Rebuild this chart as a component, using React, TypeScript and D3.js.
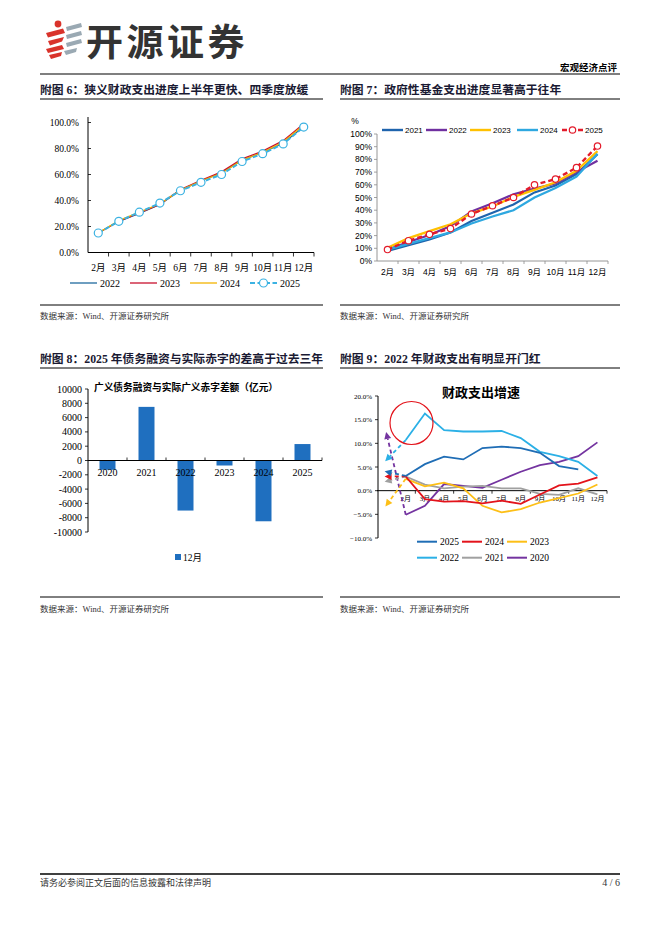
import React from 'react';
import * as d3 from 'd3';

// ---------- DATA ----------
const months11 = ['2月', '3月', '4月', '5月', '6月', '7月', '8月', '9月', '10月', '11月', '12月'];

// 附图6 狭义财政支出进度 (%)
const c6Years = ['2022', '2023', '2024', '2025'];
const c6_2022 = [15, 24, 30, 37, 48, 55, 61.5, 71, 77, 84, 97];
const c6_2023 = [15, 24, 30.5, 37, 48.5, 55.5, 62, 72, 78, 86, 99];
const c6_2024 = [15, 24.5, 31, 37.5, 48, 55, 61, 71, 77, 85, 98];
const c6_2025 = [15, 24, 31, 38, 47.5, 54, 60, 70, 76, 83.5, 96.5];

// 附图7 政府性基金支出进度 (%)
const c7Years = ['2021', '2022', '2023', '2024', '2025'];
const c7_2021 = [8, 12.5, 17, 22.5, 31.5, 38, 44.5, 54, 59.5, 68.5, 84];
const c7_2022 = [9, 15, 20.5, 27.5, 39, 45.5, 52.5, 57, 61, 70, 79];
const c7_2023 = [10.5, 18, 23.5, 29, 37.5, 43, 50.5, 56, 62, 71, 86.5];
const c7_2024 = [9, 13.5, 18, 22.5, 29.5, 35, 40, 50, 57.5, 66.5, 84.5];
const c7_2025 = [9, 16, 21, 25.5, 37, 43.5, 50, 60, 64.5, 73.5, 90.5];

// 附图8 广义债务融资与实际广义赤字差额 (亿元)
const c8Years = ['2020', '2021', '2022', '2023', '2024', '2025'];
const c8Values = [-1300, 7500, -7000, -700, -8500, 2300];

// 附图9 财政支出增速 (%), index 0 = 1月 (arrow), 1.. = 2月..12月
const months12 = ['', '2月', '3月', '4月', '5月', '6月', '7月', '8月', '9月', '10月', '11月', '12月'];
const c9Years = ['2025', '2024', '2023', '2022', '2021', '2020'];
const c9_2025 = [4, 3.1, 5.6, 7.2, 6.6, 9.0, 9.3, 9.0, 8.0, 5.2, 4.5, null];
const c9_2024 = [3, 3, -1.8, -2.3, -2.2, -2.7, -2.1, -2.8, -0.8, 1.1, 1.5, 2.8];
const c9_2023 = [-3, 2.5, 0.9, 1.7, 0.5, -3.2, -4.6, -3.9, -2.5, -1.6, -0.6, 1.3];
const c9_2022 = [6.5, 10.7, 16.3, 12.8, 12.5, 12.5, 12.6, 11.1, 8.2, 7.3, 6.1, 3.1];
const c9_2021 = [2, 3, 1.3, 0.5, 0.85, 1.0, 0.5, 0.5, -0.7, -0.9, 0.5, -0.8];
const c9_2020 = [12, -5.1, -3.2, 1.4, 1.0, 0.6, 2.3, 4.0, 5.4, 6.1, 7.3, 10.2];

// ---------- STYLE ----------
const SERIF = '"Liberation Serif","Times New Roman","Noto Sans CJK SC",serif';
const SANS = '"Liberation Sans",Arial,"Noto Sans CJK SC",sans-serif';
const TITLE_COLOR = '#1a1a33';

function Chart6() {
  const x = d3.scaleBand<string>().domain(months11).range([88, 314]);
  const y = d3.scaleLinear().domain([0, 100]).range([252.5, 122.5]);
  const cx = (i: number) => (x(months11[i]) as number) + x.bandwidth() / 2;
  const line = d3.line<number>().x((_, i) => cx(i)).y((d) => y(d));
  const series = [
    { name: c6Years[0], data: c6_2022, color: '#1f6a9e', w: 1.3 },
    { name: c6Years[1], data: c6_2023, color: '#c8102e', w: 1.3 },
    { name: c6Years[2], data: c6_2024, color: '#f3b300', w: 1.3 },
  ];
  const s25 = { name: c6Years[3], data: c6_2025, color: '#3bb2e2' };
  const ticks = y.ticks(5);
  const legendX = [70, 130, 190, 250];
  return (
    <g>
      {ticks.map((t) => (
        <g key={t}>
          <text x={79} y={y(t) + 3.5} textAnchor="end" fontSize={9.5} fontFamily={SERIF}>
            {d3.format('.1f')(t) + '%'}
          </text>
          <line x1={88} x2={91} y1={y(t)} y2={y(t)} stroke="#000" strokeWidth={0.8} />
        </g>
      ))}
      <line x1={88} x2={88} y1={117} y2={y(0)} stroke="#000" strokeWidth={1} />
      <line x1={88} x2={314} y1={y(0)} y2={y(0)} stroke="#000" strokeWidth={1} />
      {months11.map((m, i) => (
        <g key={m}>
          <line x1={(x(m) as number) + x.bandwidth()} x2={(x(m) as number) + x.bandwidth()} y1={y(0)} y2={y(0) + 4} stroke="#000" strokeWidth={0.8} />
          <text x={cx(i)} y={271} textAnchor="middle" fontSize={9.5} fontFamily={SERIF}>{m}</text>
        </g>
      ))}
      {series.map((s) => (
        <path key={s.name} d={line(s.data) as string} fill="none" stroke={s.color} strokeWidth={s.w} />
      ))}
      <path d={line(s25.data) as string} fill="none" stroke={s25.color} strokeWidth={2} strokeDasharray="5,2.5" />
      {s25.data.map((d, i) => (
        <circle key={i} cx={cx(i)} cy={y(d)} r={4} fill="#fff" stroke={s25.color} strokeWidth={1.2} />
      ))}
      {/* legend */}
      {[...series, { ...s25, w: 2 }].map((s, i) => (
        <g key={s.name}>
          <line x1={legendX[i]} x2={legendX[i] + 27} y1={283} y2={283} stroke={s.color} strokeWidth={i === 3 ? 2 : 1.3} strokeDasharray={i === 3 ? '5,2.5' : undefined} />
          {i === 3 && <circle cx={legendX[i] + 13.5} cy={283} r={4} fill="#fff" stroke={s.color} strokeWidth={1.2} />}
          <text x={legendX[i] + 30} y={286.5} fontSize={10} fontFamily={SERIF}>{s.name}</text>
        </g>
      ))}
    </g>
  );
}

function Chart7() {
  const x = d3.scaleBand<string>().domain(months11).range([377, 608]);
  const y = d3.scaleLinear().domain([0, 100]).range([261, 134]);
  const cx = (i: number) => (x(months11[i]) as number) + x.bandwidth() / 2;
  const line = d3.line<number>().x((_, i) => cx(i)).y((d) => y(d));
  const series = [
    { name: c7Years[0], data: c7_2021, color: '#1f64ad' },
    { name: c7Years[1], data: c7_2022, color: '#7030a0' },
    { name: c7Years[2], data: c7_2023, color: '#ffc000' },
    { name: c7Years[3], data: c7_2024, color: '#2ea8e0' },
  ];
  const s25 = { name: c7Years[4], data: c7_2025, color: '#e31b2b' };
  const legendX = [382, 426, 470, 517, 562];
  const axisC = '#8a8a8a';
  return (
    <g>
      <text x={355} y={124} textAnchor="middle" fontSize={8.5} fontFamily={SANS}>%</text>
      {y.ticks(10).map((t) => (
        <g key={t}>
          <text x={372} y={y(t) + 3} textAnchor="end" fontSize={8.5} fontFamily={SANS}>{t + '%'}</text>
          <line x1={374} x2={377} y1={y(t)} y2={y(t)} stroke={axisC} strokeWidth={0.8} />
        </g>
      ))}
      <line x1={377} x2={377} y1={y(100)} y2={y(0)} stroke={axisC} strokeWidth={0.9} />
      <line x1={377} x2={608} y1={y(0)} y2={y(0)} stroke={axisC} strokeWidth={0.9} />
      {months11.map((m, i) => (
        <g key={m}>
          <line x1={(x(m) as number) + x.bandwidth()} x2={(x(m) as number) + x.bandwidth()} y1={y(0)} y2={y(0) + 3} stroke={axisC} strokeWidth={0.8} />
          <text x={cx(i)} y={275} textAnchor="middle" fontSize={8.5} fontFamily={SANS}>{m}</text>
        </g>
      ))}
      {series.map((s) => (
        <path key={s.name} d={line(s.data) as string} fill="none" stroke={s.color} strokeWidth={2.2} />
      ))}
      <path d={line(s25.data) as string} fill="none" stroke={s25.color} strokeWidth={2.4} strokeDasharray="5,3" />
      {s25.data.map((d, i) => (
        <circle key={i} cx={cx(i)} cy={y(d)} r={3.2} fill="#fff" stroke={s25.color} strokeWidth={1.2} />
      ))}
      {[...series, s25].map((s, i) => (
        <g key={s.name}>
          <line x1={legendX[i]} x2={legendX[i] + 21} y1={130} y2={130} stroke={s.color} strokeWidth={2.4} strokeDasharray={i === 4 ? '5,3' : undefined} />
          {i === 4 && <circle cx={legendX[i] + 10.5} cy={130} r={3.2} fill="#fff" stroke={s.color} strokeWidth={1.2} />}
          <text x={legendX[i] + 23} y={133} fontSize={8} fontFamily={SANS}>{s.name}</text>
        </g>
      ))}
    </g>
  );
}

function Chart8() {
  const x = d3.scaleBand<string>().domain(c8Years).range([88, 322]).paddingInner(0.59).paddingOuter(0.295);
  const y = d3.scaleLinear().domain([-10000, 10000]).range([532, 389]);
  const barColor = '#1f6fbf';
  const step = x.step();
  return (
    <g>
      {y.ticks(10).map((t) => (
        <g key={t}>
          <text x={82} y={y(t) + 3.5} textAnchor="end" fontSize={10} fontFamily={SERIF}>{t}</text>
          <line x1={85} x2={88} y1={y(t)} y2={y(t)} stroke="#000" strokeWidth={0.8} />
        </g>
      ))}
      <line x1={88} x2={88} y1={y(10000)} y2={y(-10000)} stroke="#000" strokeWidth={1} />
      {c8Years.map((yr, i) => {
        const v = c8Values[i];
        const bx = x(yr) as number;
        return (
          <rect key={yr} x={bx} width={x.bandwidth()} y={y(Math.max(0, v))} height={Math.abs(y(v) - y(0))} fill={barColor} />
        );
      })}
      <line x1={88} x2={322} y1={y(0)} y2={y(0)} stroke="#000" strokeWidth={1} />
      {c8Years.map((yr, i) => (
        <g key={yr}>
          <line x1={88 + step * (i + 1)} x2={88 + step * (i + 1)} y1={y(0)} y2={y(0) - 3} stroke="#000" strokeWidth={0.8} />
          <text x={(x(yr) as number) + x.bandwidth() / 2} y={476} textAnchor="middle" fontSize={10} fontFamily={SERIF}>{yr}</text>
        </g>
      ))}
      <text x={94} y={391} fontSize={9.7} fontWeight={700} fontFamily={SERIF}>广义债务融资与实际广义赤字差额（亿元）</text>
      <rect x={175} y={554} width={6} height={6} fill={barColor} />
      <text x={183} y={561} fontSize={9.5} fontFamily={SERIF}>12月</text>
    </g>
  );
}

function Chart9() {
  const keys = months12.map((m, i) => m || 'm' + i);
  const x = d3.scaleBand<string>().domain(keys).range([377, 607]);
  const y = d3.scaleLinear().domain([-10, 20]).range([538, 396]);
  const cx = (i: number) => (x(keys[i]) as number) + x.bandwidth() / 2;
  const line = d3
    .line<{ v: number | null; i: number }>()
    .defined((d) => d.v != null)
    .x((d) => cx(d.i))
    .y((d) => y(d.v as number));
  const series = [
    { name: c9Years[5], data: c9_2020, color: '#7434a0' },
    { name: c9Years[4], data: c9_2021, color: '#a0a0a0' },
    { name: c9Years[3], data: c9_2022, color: '#2bb0e6' },
    { name: c9Years[2], data: c9_2023, color: '#fdbf16' },
    { name: c9Years[1], data: c9_2024, color: '#e3131b' },
    { name: c9Years[0], data: c9_2025, color: '#1f6db5' },
  ];
  const legendOrder = [5, 4, 3, 2, 1, 0];
  const legendX = [417, 462, 507];
  const legendY = [541.7, 557.7];
  const arrow = (d: (number | null)[], color: string) => {
    const jx = cx(0), jy = y(d[0] as number);
    const fx = cx(1), fy = y(d[1] as number);
    const a = Math.atan2(jy - fy, jx - fx);
    const c = Math.cos(a), s = Math.sin(a);
    const tip = [jx + 2 * c, jy + 2 * s];
    const b = [jx - 5 * c, jy - 5 * s];
    const p1 = [b[0] - 3.5 * s, b[1] + 3.5 * c];
    const p2 = [b[0] + 3.5 * s, b[1] - 3.5 * c];
    return (
      <g>
        <line x1={fx} y1={fy} x2={b[0]} y2={b[1]} stroke={color} strokeWidth={1.8} strokeDasharray="4,3" />
        <polygon points={[tip, p1, p2].map((p) => p.join(',')).join(' ')} fill={color} />
      </g>
    );
  };
  return (
    <g>
      <text x={481} y={397} textAnchor="middle" fontSize={13} fontWeight={700} fontFamily={SERIF}>财政支出增速</text>
      {y.ticks(6).map((t) => (
        <g key={t}>
          <text x={372} y={y(t) + 2.5} textAnchor="end" fontSize={7} fontFamily={SERIF}>{d3.format('.1f')(t) + '%'}</text>
          <line x1={375} x2={378} y1={y(t)} y2={y(t)} stroke="#000" strokeWidth={0.8} />
        </g>
      ))}
      <line x1={378} x2={378} y1={y(20)} y2={y(-10)} stroke="#000" strokeWidth={1} />
      <line x1={377} x2={607} y1={y(0)} y2={y(0)} stroke="#000" strokeWidth={1} />
      {keys.map((k, i) =>
        i % 2 === 1 ? (
          <line key={k} x1={(x(k) as number) + x.bandwidth()} x2={(x(k) as number) + x.bandwidth()} y1={y(0)} y2={y(0) + 3} stroke="#000" strokeWidth={0.8} />
        ) : null
      )}
      {months12.map((m, i) => (m ? <text key={m} x={cx(i)} y={501} textAnchor="middle" fontSize={7} fontFamily={SERIF}>{m}</text> : null))}
      {series.map((s) => (
        <g key={s.name}>
          <path d={line(s.data.map((v, i) => ({ v, i })).slice(1)) as string} fill="none" stroke={s.color} strokeWidth={1.8} />
          {arrow(s.data, s.color)}
        </g>
      ))}
      <ellipse cx={411.5} cy={423} rx={21.5} ry={21.5} fill="none" stroke="#e3131b" strokeWidth={1.2} />
      {legendOrder.map((si, k) => {
        const s = series[si];
        const lx = legendX[k % 3];
        const ly = legendY[Math.floor(k / 3)];
        return (
          <g key={s.name}>
            <line x1={lx} x2={lx + 20} y1={ly} y2={ly} stroke={s.color} strokeWidth={2} />
            <text x={lx + 23} y={ly + 3.3} fontSize={9.5} fontFamily={SERIF}>{s.name}</text>
          </g>
        );
      })}
    </g>
  );
}

function Logo() {
  const red = '#d9332b';
  const grey = '#9aa9b3';
  return (
    <g>
      <circle cx={58} cy={24} r={3.4} fill={red} />
      <polygon points="46,33 63,28.5 65,33 48,37.5" fill={red} />
      <polygon points="48,41 64,37 62,41.5 50,45.5" fill={red} />
      <polygon points="46,49 62,45 64,49 48,53" fill={red} />
      <polygon points="49,55 62,52 61,56 51,59" fill={red} />
      <polygon points="66,27 81,23 82,27 67,31" fill={grey} />
      <polygon points="66,35 81,31 82,35 67,39" fill={grey} />
      <polygon points="66,43 81,39 82,43 67,47" fill={grey} />
      <polygon points="64,51 77,48 76,52 66,55" fill={grey} />
      <text x={86} y={56} fontSize={37} fontWeight={700} fill="#333" fontFamily='"Noto Sans CJK SC",sans-serif' letterSpacing={3.5}>开源证券</text>
    </g>
  );
}

export default function App() {
  const src = '数据来源：Wind、开源证券研究所';
  return (
    <div style={{ position: 'absolute', left: 0, top: 0 }}>
      <svg width={662} height={936} viewBox="0 0 662 936" style={{ display: 'block', background: '#fff' }}>
        <rect x={0} y={0} width={662} height={936} fill="#fff" />
        <Logo />
        <text x={617} y={71} textAnchor="end" fontSize={9.5} fontWeight={700} fontFamily={SERIF}>宏观经济点评</text>
        <line x1={40} x2={620} y1={74} y2={74} stroke="#000" strokeWidth={1.2} />

        <text x={40} y={94} fontSize={11.8} fontWeight={700} fill={TITLE_COLOR} fontFamily={SERIF}>附图 6：狭义财政支出进度上半年更快、四季度放缓</text>
        <line x1={40} x2={323} y1={99} y2={99} stroke="#000" strokeWidth={1} />
        <text x={340} y={94} fontSize={11.8} fontWeight={700} fill={TITLE_COLOR} fontFamily={SERIF}>附图 7：政府性基金支出进度显著高于往年</text>
        <line x1={340} x2={620} y1={99} y2={99} stroke="#000" strokeWidth={1} />

        <Chart6 />
        <Chart7 />

        <line x1={40} x2={323} y1={305} y2={305} stroke="#000" strokeWidth={1} />
        <line x1={340} x2={620} y1={305} y2={305} stroke="#000" strokeWidth={1} />
        <text x={40} y={319} fontSize={8.5} fill="#333" fontFamily={SERIF}>{src}</text>
        <text x={340} y={319} fontSize={8.5} fill="#333" fontFamily={SERIF}>{src}</text>

        <text x={40} y={363} fontSize={11.8} fontWeight={700} fill={TITLE_COLOR} fontFamily={SERIF}>附图 8：2025 年债务融资与实际赤字的差高于过去三年</text>
        <line x1={40} x2={323} y1={368} y2={368} stroke="#000" strokeWidth={1} />
        <text x={340} y={363} fontSize={11.8} fontWeight={700} fill={TITLE_COLOR} fontFamily={SERIF}>附图 9：2022 年财政支出有明显开门红</text>
        <line x1={340} x2={620} y1={368} y2={368} stroke="#000" strokeWidth={1} />

        <Chart8 />
        <Chart9 />

        <line x1={40} x2={323} y1={597} y2={597} stroke="#000" strokeWidth={1} />
        <line x1={340} x2={620} y1={597} y2={597} stroke="#000" strokeWidth={1} />
        <text x={40} y={612} fontSize={8.5} fill="#333" fontFamily={SERIF}>{src}</text>
        <text x={340} y={612} fontSize={8.5} fill="#333" fontFamily={SERIF}>{src}</text>

        <line x1={40} x2={620} y1={874} y2={874} stroke="#000" strokeWidth={1.3} />
        <text x={40} y={886} fontSize={9} fill="#333" fontFamily={SERIF}>请务必参阅正文后面的信息披露和法律声明</text>
        <text x={620} y={886} textAnchor="end" fontSize={10} fill="#333" fontFamily={SERIF}>4 / 6</text>
      </svg>
    </div>
  );
}
